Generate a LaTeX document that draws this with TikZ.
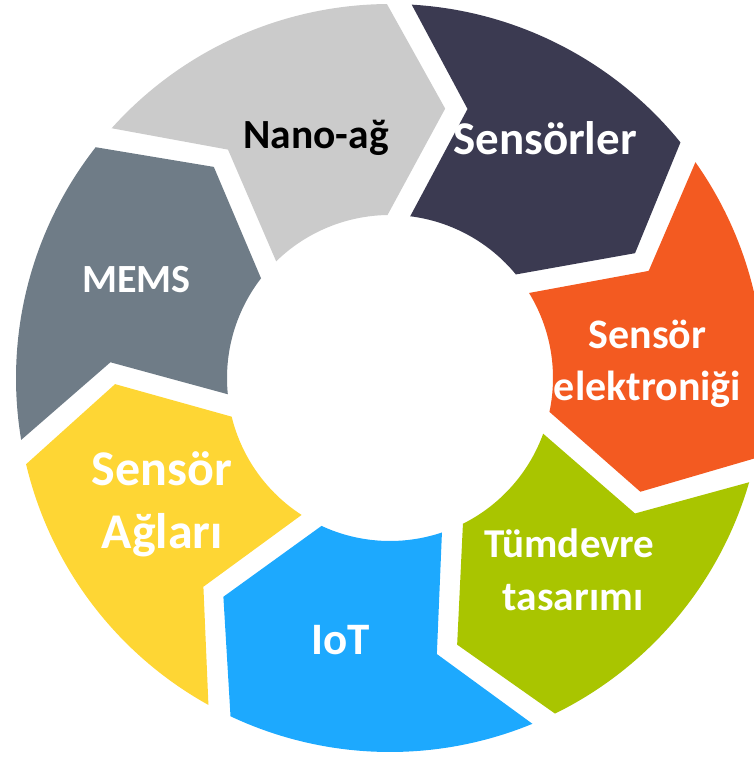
\documentclass[tikz,border=0pt]{standalone}
\usepackage{fontspec}
\setmainfont{Carlito}
\definecolor{segNano}{HTML}{CBCBCB}
\definecolor{segSens}{HTML}{3B3A51}
\definecolor{segElec}{HTML}{F35A21}
\definecolor{segChip}{HTML}{A9C500}
\definecolor{segIoT}{HTML}{1DA9FE}
\definecolor{segNet}{HTML}{FED634}
\definecolor{segMems}{HTML}{6F7C87}
\tikzset{
  lbl/.style={font=\bfseries\fontsize{#1}{#1}\selectfont, text=white, inner sep=0pt, anchor=base},
}
% ring geometry (pt): outer radius, inner radius, tip radius, notch radius
\def\Ro{374}
\def\Ri{163}
\def\Rt{275}
\def\Rn{280}
\begin{document}
\begin{tikzpicture}[x=1pt,y=1pt]
\useasboundingbox (-390,-379) rectangle (363,378);
% seven chevron-ended ring segments, running clockwise
\foreach \k/\col in {0/segNano,1/segSens,2/segElec,3/segChip,4/segIoT,5/segNet,6/segMems}{
  \pgfmathsetmacro{\Otr}{140-51.4286*\k}
  \pgfmathsetmacro{\Oln}{140-51.4286*(\k+1)}
  \pgfmathsetmacro{\Ot}{\Otr-1.9}
  \pgfmathsetmacro{\Nt}{\Otr-12.4-2.25}
  \pgfmathsetmacro{\It}{\Otr-1.7-4.0}
  \pgfmathsetmacro{\Ol}{\Oln+1.9}
  \pgfmathsetmacro{\Tl}{\Oln-12.4+2.25}
  \pgfmathsetmacro{\Il}{\Oln-1.7+4.0}
  \fill[\col] (\Ot:\Ro pt) arc[start angle=\Ot, end angle=\Ol, radius=\Ro pt]
    -- (\Tl:\Rt pt) -- (\Il:\Ri pt)
    arc[start angle=\Il, end angle=\It, radius=\Ri pt]
    -- (\Nt:\Rn pt) -- cycle;
}
% labels
\node[lbl=41.5, text=black] (nano) at (-74,229) {Nano-ağ};
\node[lbl=47] (sens) at (155,223) {Sensörler};
\node[lbl=40] (mems) at (-253.5,85) {MEMS};
\node[lbl=42] (elec1) at (257.5,29) {Sensör};
\node[lbl=42] (elec2) at (257.5,-23) {elektroniği};
\node[lbl=41] (chip1) at (179.5,-179) {Tümdevre};
\node[lbl=41.5] (chip2) at (183,-232) {tasarımı};
\node[lbl=50] (net1) at (-228,-107) {Sensör};
\node[lbl=50] (net2) at (-227.5,-170) {Ağları};
\node[lbl=45] (iot) at (-49,-276) {IoT};
\end{tikzpicture}
\end{document}
